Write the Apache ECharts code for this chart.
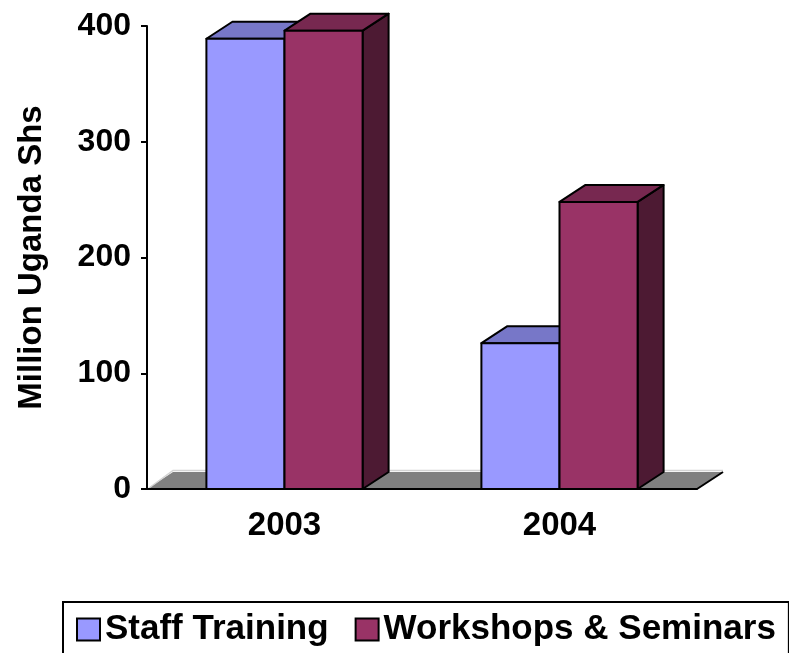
<!DOCTYPE html>
<html>
<head>
<meta charset="utf-8">
<script src="https://cdn.jsdelivr.net/npm/echarts@6/dist/echarts.min.js"></script>
<style>
  html, body { margin: 0; padding: 0; background: #fff; }
  #chart { width: 789px; height: 653px; }
</style>
</head>
<body>
<div id="chart"></div>
<script>
// Training expenditure by year, in million Uganda shillings
const years = ['2003', '2004'];
const staffTraining = [389, 126];
const workshopsSeminars = [396, 248];
const yTicks = [0, 100, 200, 300, 400];

const seriesNames = ['Staff Training', 'Workshops & Seminars'];
const FONT = '"Liberation Sans", Arial, sans-serif';

// 3D extrusion of bars and floor (pixels)
const DX = 26, DY = -17;
const BAR_FRACTION = 0.284;

const faceColors = [
  { front: '#9999FF', top: '#7777C8', side: '#6B6BB3' },
  { front: '#993366', top: '#772850', side: '#4D1A33' }
];

function barRenderer(seriesIdx) {
  return function (params, api) {
    const cat = api.value(0);
    const top = api.coord([cat, api.value(1)]);
    const base = api.coord([cat, 0]);
    const bw = api.size([1, 0])[0] * BAR_FRACTION;
    const x0 = seriesIdx === 0 ? top[0] - bw : top[0];
    const x1 = x0 + bw;
    const yT = top[1], yB = base[1];
    const c = faceColors[seriesIdx];
    const stroke = { stroke: '#000', lineWidth: 2, lineJoin: 'round' };
    return {
      type: 'group',
      children: [
        { type: 'polygon', shape: { points: [[x1, yB], [x1 + DX, yB + DY], [x1 + DX, yT + DY], [x1, yT]] },
          style: Object.assign({ fill: c.side }, stroke) },
        { type: 'polygon', shape: { points: [[x0, yT], [x1, yT], [x1 + DX, yT + DY], [x0 + DX, yT + DY]] },
          style: Object.assign({ fill: c.top }, stroke) },
        { type: 'polygon', shape: { points: [[x0, yB], [x1, yB], [x1, yT], [x0, yT]] },
          style: Object.assign({ fill: c.front }, stroke) }
      ]
    };
  };
}

function floorRenderer(params) {
  const cs = params.coordSys;
  const x = cs.x, y = cs.y + cs.height, w = cs.width;
  return {
    type: 'group',
    children: [
      { type: 'polygon', shape: { points: [[x, y], [x + w, y], [x + w + DX, y + DY], [x + DX, y + DY]] },
        style: { fill: '#808080' } },
      { type: 'polyline', shape: { points: [[x + 2, y - 1], [x + DX, y + DY - 1.5], [x + w + DX, y + DY - 1.5]] },
        style: { stroke: '#D4D4D4', lineWidth: 1.5, fill: null } },
      { type: 'line', shape: { x1: x + w, y1: y, x2: x + w + DX, y2: y + DY },
        style: { stroke: '#000', lineWidth: 2 } }
    ]
  };
}

const chart = echarts.init(document.getElementById('chart'));
chart.setOption({
  animation: false,
  color: ['#9999FF', '#993366'],
  grid: { left: 147, right: 92, top: 26, bottom: 164, containLabel: false },
  xAxis: {
    type: 'category',
    data: years,
    z: 10,
    axisLine: { lineStyle: { color: '#000', width: 2 } },
    axisTick: { length: 9, lineStyle: { color: '#000', width: 2 } },
    axisLabel: { color: '#000', fontFamily: FONT, fontWeight: 'bold', fontSize: 33, margin: 20 }
  },
  yAxis: {
    type: 'value',
    min: yTicks[0],
    max: yTicks[yTicks.length - 1],
    interval: yTicks[1] - yTicks[0],
    z: 10,
    name: 'Million Uganda Shs',
    nameLocation: 'middle',
    nameRotate: 90,
    nameGap: 99,
    nameTextStyle: { color: '#000', fontFamily: FONT, fontWeight: 'bold', fontSize: 33 },
    axisLine: { show: true, lineStyle: { color: '#000', width: 2 } },
    axisTick: { show: true, length: 6, lineStyle: { color: '#000', width: 2 } },
    axisLabel: { color: '#000', fontFamily: FONT, fontWeight: 'bold', fontSize: 32, margin: 16 },
    splitLine: { show: false }
  },
  legend: {
    data: seriesNames,
    left: 63,
    top: 602,
    orient: 'horizontal',
    padding: [10, 13, 10, 13],
    borderColor: '#000',
    borderWidth: 2,
    itemWidth: 23,
    itemHeight: 22,
    itemGap: 26,
    icon: 'rect',
    itemStyle: { borderColor: '#000', borderWidth: 2 },
    textStyle: { color: '#000', fontFamily: FONT, fontWeight: 'bold', fontSize: 35 },
    selectedMode: false
  },
  series: [
    {
      type: 'custom',
      name: 'floor',
      z: 1,
      silent: true,
      renderItem: floorRenderer,
      data: [[0, 0]]
    },
    {
      type: 'custom',
      name: seriesNames[0],
      z: 2,
      renderItem: barRenderer(0),
      itemStyle: { color: '#9999FF' },
      data: staffTraining.map((v, i) => [i, v])
    },
    {
      type: 'custom',
      name: seriesNames[1],
      z: 3,
      renderItem: barRenderer(1),
      itemStyle: { color: '#993366' },
      data: workshopsSeminars.map((v, i) => [i, v])
    }
  ]
});
</script>
</body>
</html>
